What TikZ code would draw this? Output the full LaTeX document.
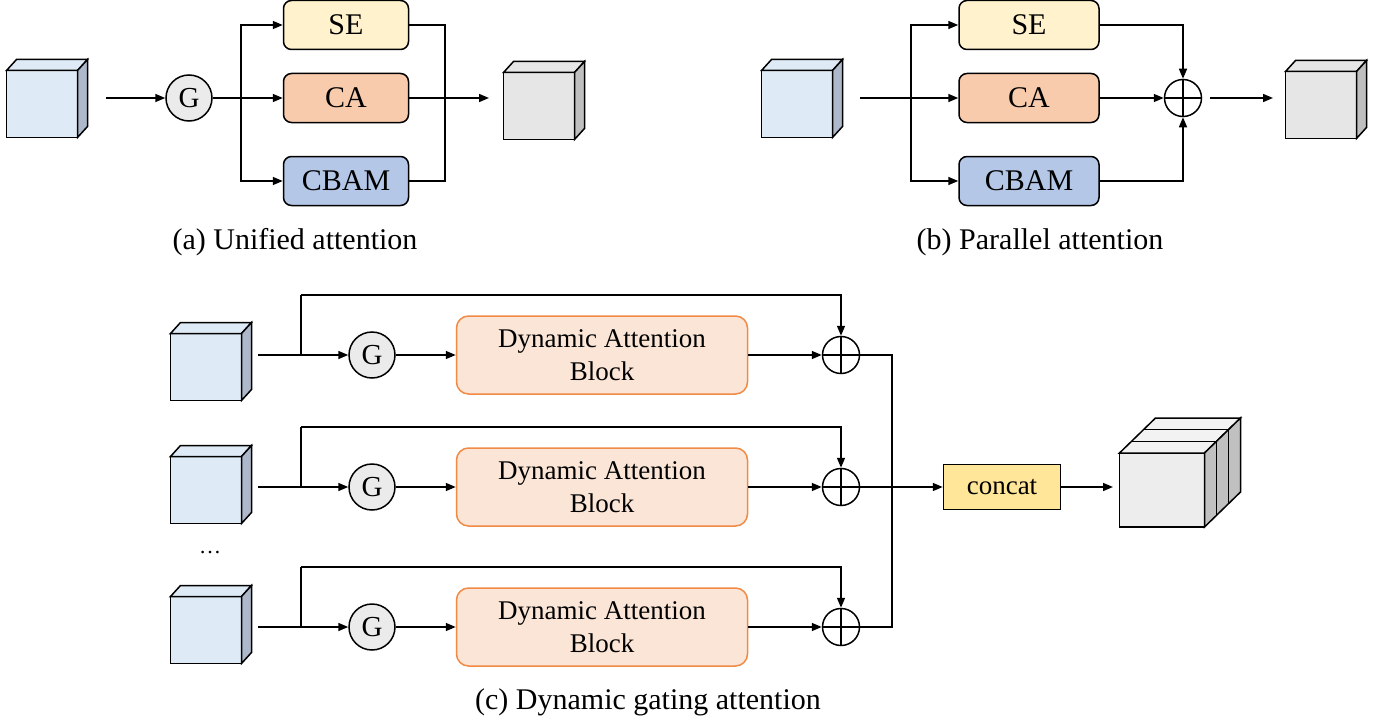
\documentclass[tikz,border=0pt]{standalone}
\usepackage{fontspec}
\setmainfont{Liberation Serif}
\usetikzlibrary{arrows.meta}

\definecolor{seyellow}{HTML}{FFF2CC}
\definecolor{caorange}{HTML}{F8CBAD}
\definecolor{cbamblue}{HTML}{B4C7E7}
\definecolor{dabfill}{HTML}{FBE5D6}
\definecolor{daborange}{HTML}{F08A45}
\definecolor{cubeblue}{HTML}{DEEBF7}
\definecolor{cubeside}{HTML}{ADB9CA}
\definecolor{cubegray}{HTML}{E6E6E6}
\definecolor{grayside}{HTML}{BFBFBF}
\definecolor{gatefill}{HTML}{EBEBEB}
\definecolor{concatfill}{HTML}{FFE699}
\definecolor{stackfront}{HTML}{EDEDED}
\definecolor{stacktop}{HTML}{F2F2F2}
\definecolor{stackside}{HTML}{C0C0C0}

\tikzset{
  cubeface/.style={draw,rectangle,inner sep=0pt,outer sep=0pt,minimum width=71pt,minimum height=67pt},
  stackface/.style={draw,rectangle,inner sep=0pt,outer sep=0pt,minimum width=85pt,minimum height=74pt},
  gate/.style={circle,draw,fill=gatefill,inner sep=0pt,minimum size=46pt,font=\fontsize{29}{34}\selectfont},
  attbox/.style={draw,rounded corners=8pt,minimum width=125pt,minimum height=49pt,font=\fontsize{30}{36}\selectfont},
  dabbox/.style={draw=daborange,fill=dabfill,rounded corners=12pt,minimum width=291pt,minimum height=78pt,align=center,font=\fontsize{27}{33}\selectfont},
  concatbox/.style={draw,fill=concatfill,minimum width=117pt,minimum height=45pt,font=\fontsize{27}{32}\selectfont},
  summ/.style={circle,draw,minimum size=37pt,inner sep=0pt,
    path picture={\draw (path picture bounding box.north) -- (path picture bounding box.south)
                        (path picture bounding box.west) -- (path picture bounding box.east);}},
  captext/.style={font=\fontsize{30}{36}\selectfont}
}

% cube: name, x, y, front colour, side colour
\newcommand{\featcube}[5]{%
  \node[cubeface,fill=#4] (#1) at (#2,#3) {};
  \draw[fill=#4] (#1.north west) -- ++(10,-11) -- ++(71,0) -- (#1.north east) -- cycle;
  \draw[fill=#5] (#1.north east) -- ++(10,-11) -- ++(0,67) -- (#1.south east) -- cycle;
}

\begin{document}
\begin{tikzpicture}[x=1pt,y=-1pt,line width=1.5pt,>={Triangle[length=10pt,width=8pt]}]
  \useasboundingbox (0,0) rectangle (1377,725);

  % -- (a) Unified attention --
  \featcube{aIn}{42}{104}{cubeblue}{cubeside}
  \coordinate (aStart) at (106,98);
  \node[gate] (aG) at (189,98) {G};
  \coordinate (aSplit) at (241,98);
  \node[attbox,fill=seyellow] (aSE) at (346,25) {SE};
  \node[attbox,fill=caorange] (aCA) at (346,98) {CA};
  \node[attbox,fill=cbamblue] (aCBAM) at (346,181) {CBAM};
  \coordinate (aJoin) at (445,98);
  \coordinate (aEnd) at (489,98);
  \featcube{aOut}{539}{106}{cubegray}{grayside}

  \draw[->] (aStart) -- (aG);
  \draw[->] (aG) -- (aCA);
  \draw[->] (aSplit) |- (aSE);
  \draw[->] (aSplit) |- (aCBAM);
  \draw (aSE) -| (aJoin) |- (aCBAM);
  \draw[->] (aCA) -- (aEnd);
  \node[captext] (aCap) at (295,242) {(a) Unified attention};

  % -- (b) Parallel attention --
  \featcube{bIn}{797}{104}{cubeblue}{cubeside}
  \coordinate (bStart) at (860,98);
  \coordinate (bSplit) at (911,98);
  \node[attbox,minimum width=140pt,fill=seyellow] (bSE) at (1029,25) {SE};
  \node[attbox,minimum width=140pt,fill=caorange] (bCA) at (1029,98) {CA};
  \node[attbox,minimum width=140pt,fill=cbamblue] (bCBAM) at (1029,181) {CBAM};
  \node[summ] (bSum) at (1183,98) {};
  \coordinate (bEnd) at (1273,98);
  \featcube{bOut}{1321}{105}{cubegray}{grayside}

  \draw[->] (bStart) -- (bCA);
  \draw[->] (bSplit) |- (bSE);
  \draw[->] (bSplit) |- (bCBAM);
  \draw[->] (bSE) -| (bSum);
  \draw[->] (bCA) -- (bSum);
  \draw[->] (bCBAM) -| (bSum);
  \draw[->,shorten <=8pt] (bSum) -- (bEnd);
  \node[captext] (bCap) at (1040,242) {(b) Parallel attention};

  % -- (c) Dynamic gating attention: one row per input --
  \foreach \r/\y/\cy in {1/355/367, 2/487/490, 3/627/630}{
    \featcube{cIn\r}{206}{\cy}{cubeblue}{cubeside}
    \coordinate (cStart\r) at (258,\y);
    \coordinate (cSplit\r) at (301,\y);
    \coordinate (cTop\r) at (301,\y-60);
    \node[gate] (cG\r) at (372,\y) {G};
    \node[dabbox] (cDab\r) at (602,\y) {Dynamic Attention\\Block};
    \node[summ] (cSum\r) at (841,\y) {};
    \draw[->] (cStart\r) -- (cG\r);
    \draw (cSplit\r) -- (cTop\r);
    \draw[->] (cTop\r) -| (cSum\r);
    \draw[->] (cG\r) -- (cDab\r);
    \draw[->] (cDab\r) -- (cSum\r);
  }
  \node[font=\fontsize{22}{26}\selectfont] (cDots) at (210,553) {\dots};

  \coordinate (cJoin) at (892,487);
  \node[concatbox] (cConcat) at (1002,487) {concat};
  \coordinate (cEnd) at (1113,487);
  \draw (cSum1) -| (cJoin);
  \draw (cSum3) -| (cJoin);
  \draw[->] (cSum2) -- (cConcat);
  \draw[->] (cConcat) -- (cEnd);

  % stacked output cube (three slabs)
  \node[stackface,fill=stackfront] (cStack) at (1162,490) {};
  \draw[fill=stacktop] (cStack.north west) -- ++(36,-35) -- ++(85,0) -- (cStack.north east) -- cycle;
  \draw[fill=stackside] (cStack.north east) -- ++(36,-35) -- ++(0,74) -- (cStack.south east) -- cycle;
  \foreach \k in {1,2}
    \draw (cStack.north west) ++(12*\k,-11.7*\k) -- ++(85,0) -- ++(0,74);

  \node[captext] (cCap) at (648,702) {(c) Dynamic gating attention};
\end{tikzpicture}
\end{document}
